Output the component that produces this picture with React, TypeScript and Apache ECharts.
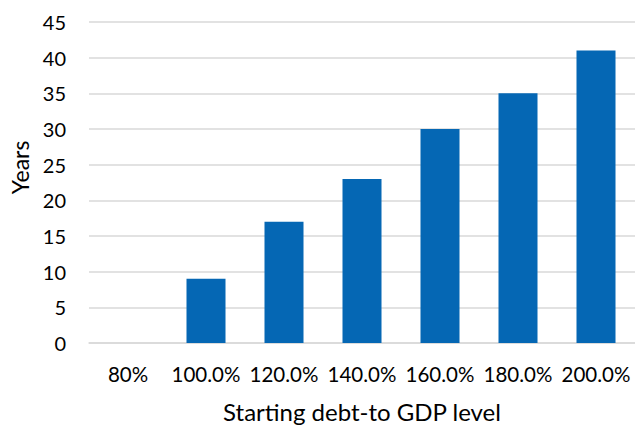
import React, { useEffect, useRef } from "react";
import * as echarts from "echarts";

const categories = ["80%", "100.0%", "120.0%", "140.0%", "160.0%", "180.0%", "200.0%"];
const years = [0, 9, 17, 23, 30, 35, 41];
const yTicks = { min: 0, max: 45, interval: 5 };

const FONT = "Lato, 'Open Sans', sans-serif";

export default function App() {
  const ref = useRef<HTMLDivElement>(null);

  useEffect(() => {
    if (!ref.current) return;
    const chart = echarts.init(ref.current, undefined, { renderer: "svg" });
    chart.setOption({
      animation: false,
      backgroundColor: "#ffffff",
      grid: {
        left: 89,
        right: 0,
        top: 22,
        bottom: 82,
        containLabel: false,
        outerBoundsMode: "none",
      },
      xAxis: {
        type: "category",
        data: categories,
        name: "Starting debt-to GDP level",
        nameLocation: "middle",
        nameGap: 56,
        nameTextStyle: { fontFamily: FONT, fontSize: 24, color: "#000" },
        axisLine: { show: true, lineStyle: { color: "#d9d9d9", width: 1.5 } },
        axisTick: { show: false },
        axisLabel: {
          fontFamily: FONT,
          fontSize: 20.5,
          color: "#000",
          margin: 20,
          interval: 0,
          hideOverlap: false,
        },
      },
      yAxis: {
        type: "value",
        min: yTicks.min,
        max: yTicks.max,
        interval: yTicks.interval,
        name: "Years",
        nameLocation: "middle",
        nameGap: 58,
        // left padding lifts the rotated title a little above the axis centre
        nameTextStyle: { fontFamily: FONT, fontSize: 23, color: "#000", padding: [0, 0, 0, 30] },
        axisLine: { show: false },
        axisTick: { show: false },
        axisLabel: { fontFamily: FONT, fontSize: 20, color: "#000", margin: 23 },
        splitLine: { lineStyle: { color: "#d9d9d9", width: 1.5 } },
      },
      series: [
        {
          type: "bar",
          data: years,
          barWidth: "50%",
          itemStyle: { color: "#0567b4" },
        },
      ],
    });
    return () => chart.dispose();
  }, []);

  return (
    <div
      ref={ref}
      style={{ position: "fixed", left: 0, top: 0, width: 635, height: 425, background: "#fff" }}
    />
  );
}
